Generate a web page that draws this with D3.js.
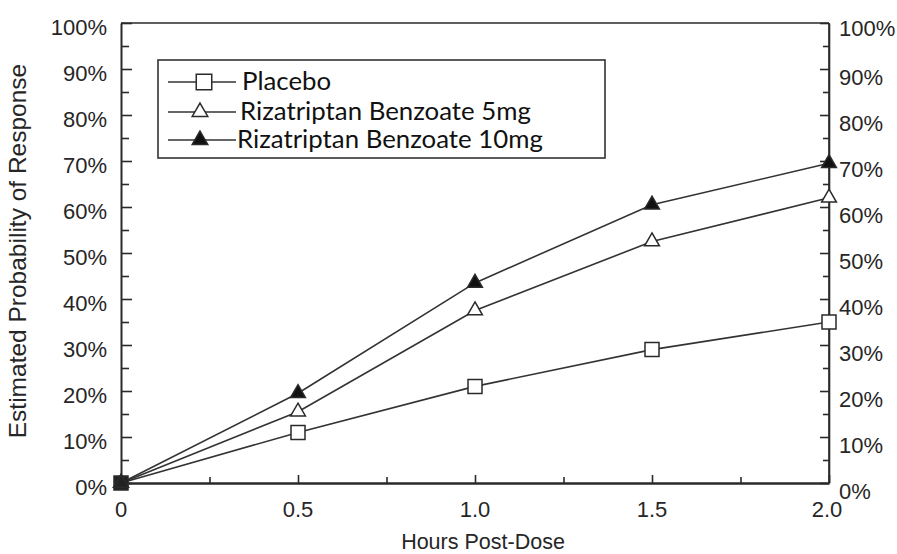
<!DOCTYPE html>
<html>
<head>
<meta charset="utf-8">
<script src="https://cdn.jsdelivr.net/npm/d3@7"></script>
<style>
  body { margin: 0; background: #fff; }
  svg { display: block; }
  .tick-label { font-family: "Liberation Sans", Arial, sans-serif; font-size: 22px; fill: #262626; }
  .legend-label { font-family: Lato, "Open Sans", sans-serif; font-size: 25.8px; fill: #111; }
</style>
</head>
<body>
<div id="wrap"></div>
<script>
// values (percent)
var hours = [0, 0.5, 1.0, 1.5, 2.0];
var placebo = [0, 11, 21, 29, 35];
var riza5 = [0, 15.5, 37.5, 52.5, 62];
var riza10 = [0, 19.5, 43.5, 60.5, 69.5];
var seriesNames = ['Placebo', 'Rizatriptan Benzoate 5mg', 'Rizatriptan Benzoate 10mg'];
var xTickLabels = ['0', '0.5', '1.0', '1.5', '2.0'];
var yTicks = [0, 10, 20, 30, 40, 50, 60, 70, 80, 90, 100];

var width = 897, height = 554;
var margin = {top: 23, right: 68, bottom: 71, left: 121};

var svg = d3.select('#wrap').append('svg')
  .attr('width', width)
  .attr('height', height);

var x = d3.scaleLinear().domain([0, 2]).range([margin.left, width - margin.right]),
    y = d3.scaleLinear().domain([0, 100]).range([height - margin.bottom, margin.top]);

var ink = '#2a2a2a';

// frame: top line and right axis
svg.append('line')
  .attr('x1', x(0)).attr('x2', x(2))
  .attr('y1', y(100)).attr('y2', y(100))
  .attr('stroke', ink).attr('stroke-width', 1.6);
svg.append('line')
  .attr('x1', x(2)).attr('x2', x(2))
  .attr('y1', y(100)).attr('y2', y(0))
  .attr('stroke', ink).attr('stroke-width', 1.6);

// left axis, ticks inward
var leftAxis = d3.axisRight(y)
  .tickValues(d3.range(0, 101, 5))
  .tickSize(0)
  .tickFormat('');
var gl = svg.append('g').attr('transform', 'translate(' + x(0) + ',0)').call(leftAxis);
gl.select('.domain').attr('stroke', ink).attr('stroke-width', 2);
gl.selectAll('.tick line')
  .attr('x2', function(d){ return d % 10 == 0 ? 11 : 8; })
  .attr('stroke', ink).attr('stroke-width', 1.6);

// right axis, ticks inward
var rightAxis = d3.axisLeft(y)
  .tickValues(d3.range(0, 101, 5))
  .tickSize(0)
  .tickFormat('');
var gr = svg.append('g').attr('transform', 'translate(' + x(2) + ',0)').call(rightAxis);
gr.select('.domain').attr('stroke', ink).attr('stroke-width', 1.6);
gr.selectAll('.tick line')
  .attr('x2', function(d){ return d % 10 == 0 ? -9 : -6; })
  .attr('stroke', ink).attr('stroke-width', 1.6);

// bottom axis, ticks inward
var bottomAxis = d3.axisTop(x)
  .tickValues(d3.range(0, 2.01, 0.25))
  .tickSize(0)
  .tickFormat('');
var gb = svg.append('g').attr('transform', 'translate(0,' + y(0) + ')').call(bottomAxis);
gb.select('.domain').attr('stroke', ink).attr('stroke-width', 2.6);
gb.selectAll('.tick line')
  .attr('y2', function(d){ return Math.abs(d * 2 - Math.round(d * 2)) < 1e-6 ? -8 : -6; })
  .attr('stroke', ink).attr('stroke-width', 1.6);

// y tick labels (left + right)
svg.selectAll('.ylab-left')
  .data(yTicks)
  .enter().append('text')
  .attr('class', 'tick-label')
  .attr('x', x(0) - 14)
  .attr('y', function(d){ return y(d) + 4; })
  .attr('text-anchor', 'end')
  .attr('dominant-baseline', 'central')
  .text(function(d){ return d + '%'; });

svg.selectAll('.ylab-right')
  .data(yTicks)
  .enter().append('text')
  .attr('class', 'tick-label')
  .attr('x', x(2) + 10)
  .attr('y', function(d){ return y(d) + (d == 100 ? 5 : 8); })
  .attr('dominant-baseline', 'central')
  .text(function(d){ return d + '%'; });

// x tick labels
svg.selectAll('.xlab')
  .data(hours)
  .enter().append('text')
  .attr('class', 'tick-label')
  .attr('x', function(d){ return d == 2 ? x(d) - 2 : x(d); })
  .attr('y', function(d){ return y(0) + 26; })
  .attr('text-anchor', 'middle')
  .attr('dominant-baseline', 'central')
  .text(function(d, i){ return xTickLabels[i]; });

// axis titles
svg.append('text')
  .attr('class', 'tick-label')
  .attr('x', x(1) + 8)
  .attr('y', height - 5)
  .attr('text-anchor', 'middle')
  .style('font-size', '21.5px')
  .text('Hours Post-Dose');

svg.append('text')
  .attr('class', 'tick-label')
  .attr('transform', 'translate(26,' + 251 + ') rotate(-90)')
  .attr('text-anchor', 'middle')
  .style('font-size', '24.5px')
  .text('Estimated Probability of Response');

// series
var series = [
  {name: seriesNames[0], values: placebo, shape: d3.symbolSquare, size: 196, fill: '#fff'},
  {name: seriesNames[1], values: riza5, shape: d3.symbolTriangle, size: 95, fill: '#fff'},
  {name: seriesNames[2], values: riza10, shape: d3.symbolTriangle, size: 95, fill: '#111'}
];

var line = d3.line()
  .x(function(d){ return x(d[0]); })
  .y(function(d){ return y(d[1]); });

series.forEach(function(s){
  var pts = hours.map(function(h, i){ return [h, s.values[i]]; });
  svg.append('path')
    .attr('d', line(pts))
    .attr('fill', 'none')
    .attr('stroke', '#333')
    .attr('stroke-width', 1.6);
});

series.forEach(function(s){
  var pts = hours.map(function(h, i){ return [h, s.values[i]]; });
  svg.selectAll('.m')
    .data(pts)
    .enter().append('path')
    .attr('d', d3.symbol().type(s.shape).size(s.size))
    .attr('transform', function(d){ return 'translate(' + x(d[0]) + ',' + y(d[1]) + ')'; })
    .attr('fill', function(d){ return d[0] == 0 ? '#222' : s.fill; })
    .attr('stroke', '#2a2a2a')
    .attr('stroke-width', 1.5);
});

// legend
var legend = svg.append('g');
legend.append('rect')
  .attr('x', 158).attr('y', 60)
  .attr('width', 447).attr('height', 98)
  .attr('fill', '#fff')
  .attr('stroke', '#333')
  .attr('stroke-width', 1.6);

var legendRows = [82, 112, 140];
var legendMarkX = [204, 200, 200];
var legendTextX = [242, 240, 237];
series.forEach(function(s, i){
  legend.append('line')
    .attr('x1', 168).attr('x2', 236)
    .attr('y1', legendRows[i]).attr('y2', legendRows[i])
    .attr('stroke', '#333').attr('stroke-width', 1.6);
  legend.append('path')
    .attr('d', d3.symbol().type(s.shape).size(s.shape == d3.symbolSquare ? 240 : 105))
    .attr('transform', 'translate(' + legendMarkX[i] + ',' + legendRows[i] + ')')
    .attr('fill', s.fill)
    .attr('stroke', '#2a2a2a')
    .attr('stroke-width', 1.5);
  legend.append('text')
    .attr('class', 'legend-label')
    .attr('x', legendTextX[i])
    .attr('y', legendRows[i] - 2)
    .attr('dominant-baseline', 'central')
    .text(s.name);
});
</script>
</body>
</html>
